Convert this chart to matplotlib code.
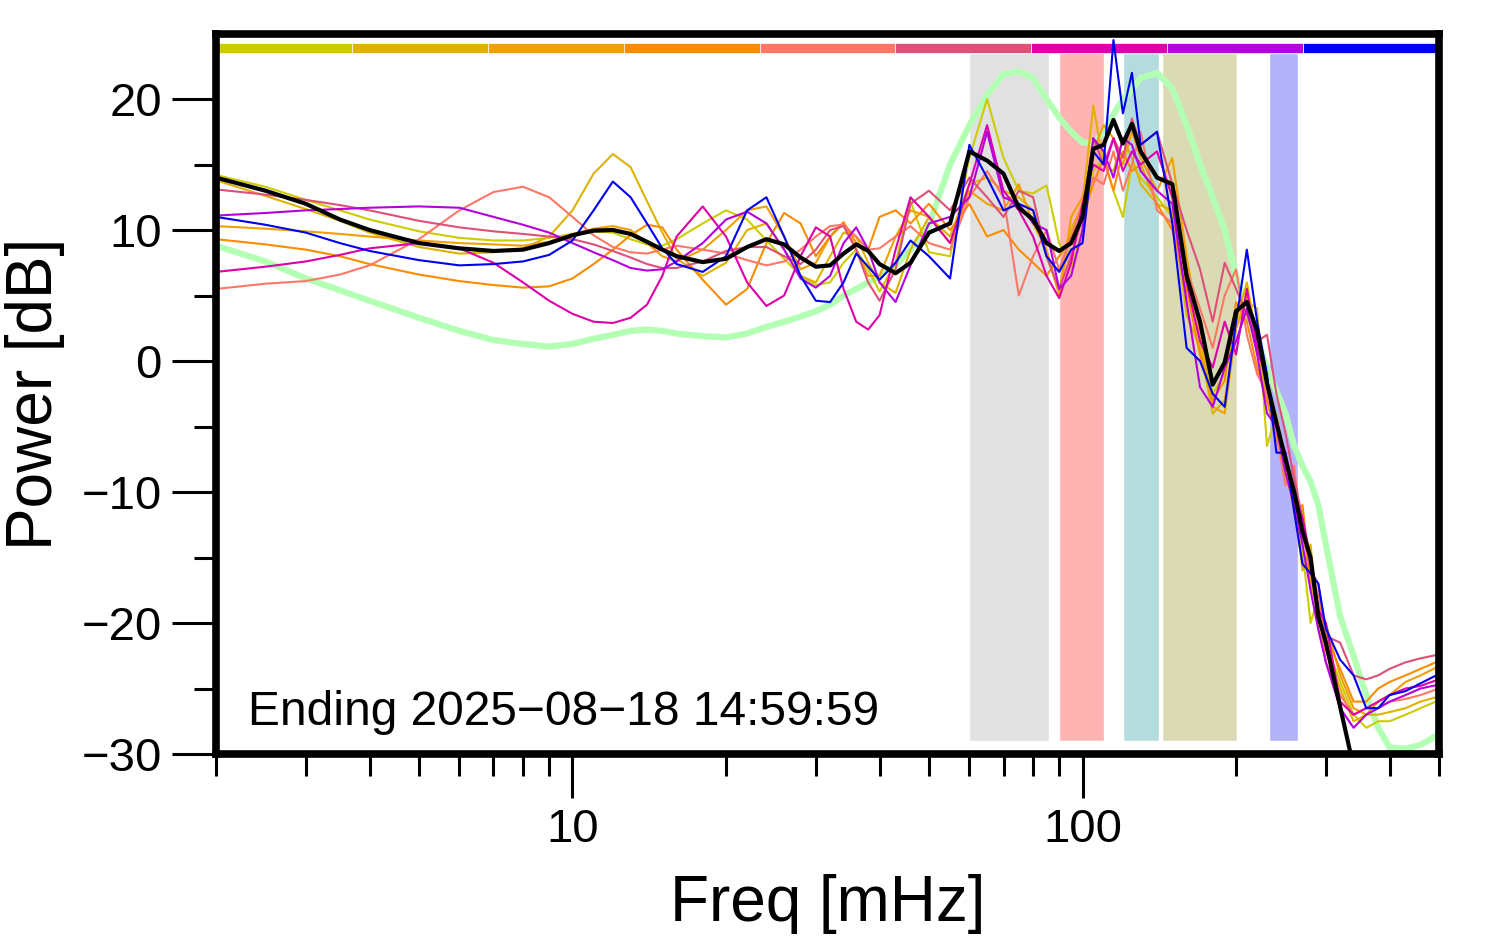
"""Power spectra of nine daily segments, their mean and a reference spectrum."""
import matplotlib
matplotlib.use("Agg")
import matplotlib.pyplot as plt
from matplotlib.patches import Rectangle
from matplotlib.ticker import FixedLocator, FixedFormatter, NullFormatter

plt.rcParams["font.family"] = ["Liberation Sans", "DejaVu Sans"]

# --- Data ---

freq_mhz = [2, 2.5, 3, 3.5, 4, 5, 6, 7, 8, 9,
            10, 11, 12, 13, 14, 15, 16, 18, 20, 22,
            24, 26, 28, 30, 32, 34, 36, 38, 40, 43,
            46, 50, 55, 60, 65, 70, 75, 80, 85, 90,
            95, 100, 105, 110, 115, 120, 125, 130, 140, 150,
            160, 170, 180, 190, 200, 210, 220, 230, 240, 250,
            260, 270, 280, 290, 300, 320, 340, 360, 380, 400,
            430, 460, 500]

seg_colors = ["#CCCC00", "#DDB300", "#F0A000", "#FA8C00", "#FF7766",
              "#DD5078", "#DD00AA", "#B400DD", "#0000EE"]

seg1 = [14.2, 13.3, 12.3, 11.5, 10.8, 9.9, 9.4, 9.2, 9.2, 9.4,
        9.7, 9.9, 9.8, 9.3, 8.9, 8.8, 9.3, 10.5, 11.5, 10.8,
        9.2, 7.8, 6.5, 5.8, 6.0, 7.5, 8.5, 7.0, 5.3, 7.5,
        12.2, 8.3, 8.0, 15.5, 20.0, 15.5, 13.0, 12.8, 13.4, 9.0,
        7.0, 10.0, 14.5, 15.5, 13.0, 11.0, 15.0, 14.0, 12.5, 11.0,
        6.0, 2.5, -2.5, -1.0, 2.5, 4.5, 4.0, -6.5, -4.0, -8.0,
        -11.0, -14.5, -20.0, -18.0, -21.5, -24.5, -27.0, -28.0, -27.5, -27.5,
        -27.0, -26.5, -25.9]
seg2 = [13.8, 12.6, 11.6, 10.7, 9.8, 8.7, 8.2, 8.3, 8.6, 9.5,
        11.5, 14.3, 15.8, 14.8, 12.2, 9.8, 7.8, 6.5, 7.5, 10.0,
        10.5, 8.5, 6.5, 6.0, 8.0, 9.8, 9.5, 7.5, 6.0, 5.2,
        8.5, 11.0, 9.5, 13.5, 14.0, 13.0, 12.5, 11.5, 8.0, 5.3,
        10.0, 12.0, 19.5, 15.0, 14.5, 17.0, 15.5, 13.5, 12.0, 11.5,
        3.5, 1.0, -4.0, -3.0, 3.0, 6.0, 1.5, -3.0, -5.5, -9.0,
        -10.5, -16.0, -14.0, -20.5, -22.0, -25.0, -27.5, -27.0, -27.0, -26.8,
        -26.5, -26.0, -25.6]
seg3 = [10.3, 10.1, 9.9, 9.7, 9.5, 9.2, 9.0, 8.9, 8.8, 9.1,
        9.7, 10.1, 10.3, 10.0, 9.0, 8.0, 7.6, 8.5, 10.0, 11.5,
        11.8, 9.5, 7.0, 7.5, 9.5, 10.5, 8.5, 6.5, 6.5, 9.5,
        11.5, 11.0, 9.0, 13.0, 12.0, 11.5, 13.5, 10.5, 8.5, 5.0,
        11.0, 12.5, 16.0, 18.0, 17.0, 15.0, 17.5, 15.5, 13.0, 15.5,
        8.0, 2.0, -3.5, -4.0, 2.5, 5.0, 1.0, -2.0, -5.0, -8.5,
        -10.0, -12.5, -17.0, -19.0, -20.0, -24.0, -26.5, -27.0, -26.0, -25.5,
        -24.5, -24.0, -23.3]
seg4 = [9.3, 8.9, 8.5, 8.0, 7.4, 6.6, 6.1, 5.8, 5.6, 5.7,
        6.3, 7.4, 8.5, 9.6, 10.4, 10.2, 8.5, 6.2, 4.3, 5.5,
        9.0, 11.3, 10.5, 8.0, 9.5, 10.6, 9.0, 8.5, 11.0, 11.5,
        10.5, 12.0, 10.0, 12.0, 9.5, 10.0, 8.5, 7.5, 6.5, 8.0,
        9.5, 11.0, 13.5, 15.5, 13.0, 16.0, 14.5, 15.0, 12.0, 10.0,
        5.5, 0.5, -3.0, -1.5, 4.5, 3.0, -0.5, -3.0, -6.0, -8.0,
        -11.5, -11.0, -16.5, -18.5, -21.0, -23.5, -26.0, -26.0, -25.0, -24.5,
        -24.0, -23.5, -22.9]
seg5 = [5.5, 5.9, 6.1, 6.6, 7.3, 9.3, 11.5, 12.9, 13.3, 12.5,
        11.0, 9.6, 8.7, 8.3, 8.2, 8.5, 8.8, 8.5, 8.2, 7.7,
        7.3, 7.6, 8.5, 9.5, 10.3, 10.4, 9.5, 8.5, 8.6, 9.5,
        10.3, 9.0, 8.5, 12.5, 14.5, 12.5, 5.0, 8.0, 10.0, 7.0,
        9.5, 12.0, 14.0, 13.5, 16.0, 13.0, 15.0, 17.5, 11.5, 10.5,
        7.0, 4.0, 1.0, 5.0, 7.0, 2.0, -1.0, -2.5, -5.5, -9.5,
        -8.0, -13.5, -15.5, -18.0, -23.0, -25.5, -27.0, -26.5, -26.5, -26.0,
        -25.8, -25.5, -25.0]
seg6 = [13.1, 12.7, 12.3, 11.9, 11.5, 10.7, 10.2, 9.9, 9.7, 9.5,
        9.3, 8.9, 8.4, 7.9, 7.4, 7.1, 7.1, 7.6, 8.4, 8.7,
        8.7, 8.0, 7.4, 8.5, 10.0, 10.3, 8.5, 6.0, 4.6, 7.0,
        12.0, 13.0, 11.5, 14.0, 12.5, 11.0, 13.0, 12.5, 8.0, 5.5,
        8.0, 11.0, 17.0, 15.0, 17.0, 15.5, 18.5, 16.5, 17.5, 13.5,
        10.0, 7.0, 3.0, 7.5, 5.5, 3.5, 1.5, 2.0, -2.5, -5.5,
        -9.0, -12.0, -16.0, -17.0, -21.0, -21.5, -24.0, -24.3, -24.0, -23.5,
        -23.0, -22.7, -22.4]
seg7 = [6.8, 7.2, 7.6, 8.1, 8.6, 9.0, 8.6, 7.5, 6.0, 4.6,
        3.6, 3.0, 2.9, 3.3, 4.3, 6.5, 9.5, 11.8, 9.5, 6.0,
        4.2, 5.0, 8.0, 10.2, 9.5, 5.5, 3.0, 2.4, 3.5, 8.5,
        12.5, 11.0, 9.0, 13.5, 18.0, 13.0, 11.5, 9.5, 6.5, 4.8,
        7.5, 12.0, 15.0, 14.5, 17.0, 14.5, 16.0, 15.0, 16.0, 12.5,
        6.0, 1.5, -0.5, 3.0, 0.5, 5.5, 1.0, -1.5, -5.0, -7.0,
        -10.0, -12.0, -15.0, -19.0, -20.0, -26.0, -27.0, -26.5, -26.0, -25.5,
        -25.0, -24.8, -24.3]
seg8 = [11.1, 11.3, 11.5, 11.6, 11.7, 11.8, 11.7, 11.0, 10.4, 9.8,
        9.0, 8.3, 7.7, 7.1, 6.9, 7.0, 7.6, 9.0, 10.8, 11.4,
        10.5, 8.5, 6.3, 5.6, 6.5, 9.0, 10.2, 8.5, 6.0, 4.5,
        7.3, 10.5, 11.0, 12.5, 17.5, 12.5, 12.0, 10.5, 10.0, 5.5,
        6.5, 10.0, 17.0, 16.0, 14.0, 17.0, 16.5, 14.5, 13.0, 12.0,
        4.5, -2.0, -3.5, -0.5, 1.5, 4.0, 0.5, -4.0, -5.0, -8.5,
        -11.0, -14.0, -17.5, -20.5, -23.0, -26.5, -28.0, -27.0, -26.5, -26.0,
        -25.5, -25.0, -24.7]
seg9 = [11.0, 10.4, 9.8, 9.0, 8.4, 7.7, 7.3, 7.4, 7.6, 8.1,
        9.2, 11.5, 13.7, 12.5, 10.5, 8.6, 7.4, 6.8, 8.0, 11.5,
        12.5, 9.5, 6.5, 4.6, 4.5, 6.0, 8.2, 7.2, 6.2, 7.5,
        9.2, 8.0, 6.3, 16.5, 14.0, 11.5, 12.0, 11.5, 8.0, 6.8,
        8.5, 9.0, 16.0, 15.0, 24.5, 18.9, 22.0, 16.5, 17.5, 10.5,
        1.0, 0.0, -2.5, -3.5, 3.0, 8.5, 3.0, -1.0, -7.0, -7.0,
        -11.5, -15.5, -16.2, -17.0, -20.4, -22.8, -24.0, -26.5, -26.5, -25.5,
        -25.2, -24.6, -23.9]
segments = [seg1, seg2, seg3, seg4, seg5, seg6, seg7, seg8, seg9]

mean_db = [14.0, 13.0, 12.0, 10.8, 10.0, 9.0, 8.6, 8.4, 8.5, 9.0,
           9.6, 9.95, 10.0, 9.7, 9.1, 8.5, 8.0, 7.55, 7.8, 8.7,
           9.3, 8.9, 7.9, 7.2, 7.3, 8.2, 8.9, 8.4, 7.4, 6.7,
           7.5, 9.8, 10.5, 16.0, 15.3, 14.3, 11.7, 10.8, 9.0, 8.4,
           9.0, 11.0, 16.2, 16.5, 18.4, 16.6, 18.1, 16.0, 14.0, 13.5,
           6.5, 3.0, -1.8, -0.1, 3.8, 4.5, 2.3, -1.7, -4.7, -7.5,
           -10.0, -13.0, -15.0, -19.5, -21.5, -26.4, -31.0, -32.0, -32.5, -33.0,
           -33.0, -33.0, -33.0]

reference_db = [8.8, 7.6, 6.3, 5.4, 4.6, 3.3, 2.3, 1.6, 1.3, 1.1,
                1.3, 1.7, 2.0, 2.3, 2.4, 2.3, 2.1, 1.9, 1.8, 2.1,
                2.6, 3.0, 3.4, 3.8, 4.3, 5.0, 5.5, 6.0, 6.5, 7.3,
                8.5, 10.4, 15.0, 18.0, 20.3, 21.9, 22.1, 21.6, 20.0, 18.6,
                17.5, 16.7, 16.6, 17.5, 18.8, 20.0, 20.7, 21.6, 22.0, 20.8,
                18.0, 15.0, 12.5, 10.0, 6.5, 4.0, 1.5, -0.5, -2.3, -4.0,
                -6.5, -8.0, -9.2, -11.0, -14.0, -19.5, -22.5, -25.5, -28.0, -29.5,
                -29.6, -29.3, -28.5]

# shaded frequency bands [mHz]
band_lo = [60, 90, 120, 143, 232]
band_hi = [86, 110, 141, 201, 265]
band_colors = ["#E1E1E1", "#FFB3B3", "#B4DCDF", "#DADBB5", "#B3B3FA"]

label_text = "Ending 2025\u221208\u221218 14:59:59"

# --- Figure ---

fig = plt.figure(figsize=(14.94, 9.52), dpi=100)
ax = fig.add_axes([216 / 1494, 1 - 754 / 952, 1223 / 1494, 720.5 / 952])

for lo, hi, c in zip(band_lo, band_hi, band_colors):
    ax.add_patch(Rectangle((lo, -29), hi - lo, 52.5, facecolor=c,
                           edgecolor="white", linewidth=1, zorder=1))

# colour key of the nine segments along the top
key_tr = matplotlib.transforms.blended_transform_factory(ax.transAxes, ax.transData)
n_seg = len(seg_colors)
for i, c in enumerate(seg_colors):
    ax.add_patch(Rectangle((i / n_seg, 23.5), 1 / n_seg, 0.8, transform=key_tr,
                           facecolor=c, edgecolor="white", linewidth=0.5,
                           zorder=2, clip_on=False))

ax.plot(freq_mhz, reference_db, color="#B3FFB3", linewidth=4.5, zorder=3,
        solid_joinstyle="round")
for vals, c in zip(segments, seg_colors):
    ax.plot(freq_mhz, vals, color=c, linewidth=1.5, zorder=4)
ax.plot(freq_mhz, mean_db, color="black", linewidth=3, zorder=5)

ax.set_xscale("log")
ax.set_xlim(2, 500)
ax.set_ylim(-30, 25)

ax.xaxis.set_major_locator(FixedLocator([10, 100]))
ax.xaxis.set_minor_locator(FixedLocator([2, 3, 4, 5, 6, 7, 8, 9, 20, 30, 40, 50,
                                         60, 70, 80, 90, 200, 300, 400, 500]))
ax.xaxis.set_major_formatter(FixedFormatter(["10", "100"]))
ax.xaxis.set_minor_formatter(NullFormatter())
ax.yaxis.set_major_locator(FixedLocator([-30, -20, -10, 0, 10, 20]))
ax.yaxis.set_minor_locator(FixedLocator([-25, -15, -5, 5, 15]))

ax.tick_params(which="major", length=32, width=2.2, labelsize=34, pad=7)
ax.tick_params(which="minor", length=16, width=2.2)
for sp in ax.spines.values():
    sp.set_linewidth(5.5)
    sp.set_zorder(6)

ax.set_xlabel("Freq [mHz]", fontsize=46, labelpad=16)
ax.set_ylabel("Power [dB]", fontsize=46, labelpad=12)

ax.text(0.026, 0.058, label_text, transform=ax.transAxes, fontsize=34.5,
        va="center", ha="left", zorder=7)

fig.savefig("out.png", dpi=100)
